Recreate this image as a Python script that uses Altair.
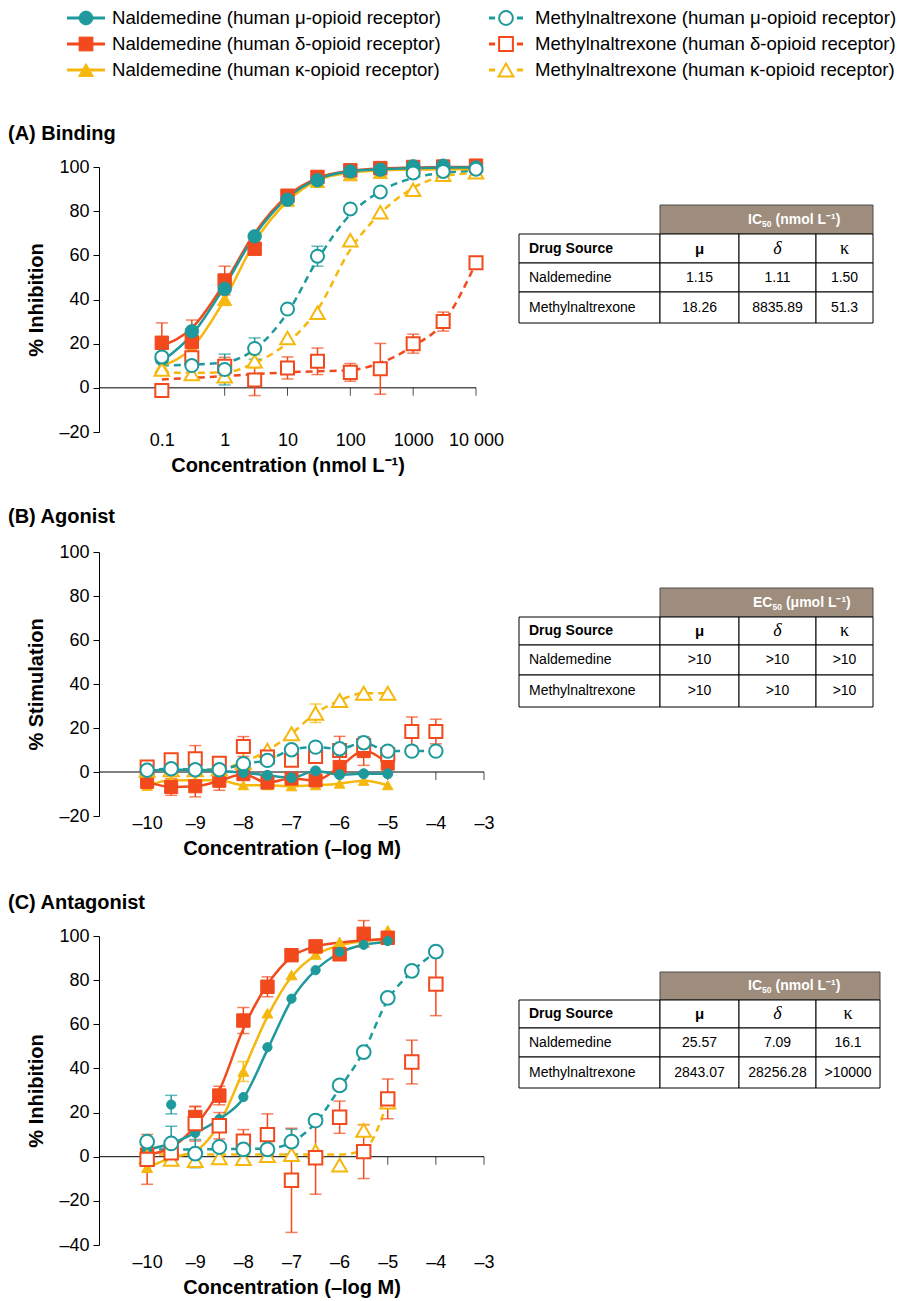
import altair as alt
import pandas as pd

FONT = "Liberation Sans, Arial, Helvetica, sans-serif"
SERIF = "Liberation Serif, Times New Roman, serif"

TEAL = "#1E9A9C"
RED = "#F2491D"
YELLOW = "#F6B80E"
BROWN = "#9E8C7C"

SERIES = ["Nal_mu", "Nal_delta", "Nal_kappa", "Met_mu", "Met_delta", "Met_kappa"]
LABELS = [
    "Naldemedine (human μ-opioid receptor)",
    "Naldemedine (human δ-opioid receptor)",
    "Naldemedine (human κ-opioid receptor)",
    "Methylnaltrexone (human μ-opioid receptor)",
    "Methylnaltrexone (human δ-opioid receptor)",
    "Methylnaltrexone (human κ-opioid receptor)",
]
COLOR = {"Nal_mu": TEAL, "Nal_delta": RED, "Nal_kappa": YELLOW,
         "Met_mu": TEAL, "Met_delta": RED, "Met_kappa": YELLOW}
SHAPE = {"Nal_mu": "circle", "Nal_delta": "square", "Nal_kappa": "triangle-up",
         "Met_mu": "circle", "Met_delta": "square", "Met_kappa": "triangle-up"}
OPEN = {"Nal_mu": False, "Nal_delta": False, "Nal_kappa": False,
        "Met_mu": True, "Met_delta": True, "Met_kappa": True}

# ---------------- Panel A: binding (x in nmol/L) ----------------
A_X = [0.1, 0.3, 1, 3, 10, 30, 100, 300, 1000, 3000, 10000]
A_NAL_MU = [13, 25.6, 44.8, 68.6, 85.2, 94, 98, 98.8, 100.3, 100.6, 99.8]
A_NAL_MU_FIT = [12, 24, 46, 69, 86, 94.5, 98, 99, 99.5, 99.7, 99.8]
A_NAL_DELTA = [20.4, 20.7, 48.6, 63, 87, 95.5, 98.5, 99.5, 100, 100.2, 100.6]
A_NAL_DELTA_ERR = [9, 10, 6.5, 0, 0, 0, 0, 0, 0, 0, 0]
A_NAL_DELTA_FIT = [19, 27, 47.5, 70, 87, 95, 98.3, 99.3, 99.7, 100, 100]
A_NAL_KAPPA = [9.5, 17.6, 40, 67, 85, 93.5, 96.5, 97.6, 98.5, 98.8, 98]
A_NAL_KAPPA_FIT = [10, 18, 40, 66, 84.5, 94, 97.5, 98.5, 98.8, 99, 99]
A_MET_MU = [14, 10.1, 8.3, 17.8, 35.7, 59.6, 81, 88.7, 97.3, 98, 99]
A_MET_MU_ERR = [0, 0, 7, 4.8, 0, 4.5, 0, 0, 0, 0, 0]
A_MET_MU_FIT = [10.2, 10.5, 11.5, 17.5, 34, 58, 78.5, 89, 95, 97.3, 98.3]
A_MET_DELTA = [-1.2, 13.6, 9.8, 3.5, 9, 12, 7, 8.6, 20, 30, 56.6]
A_MET_DELTA_ERR = [0, 0, 4, 7, 5, 6, 4, 11.5, 4.3, 4.3, 0]
A_MET_DELTA_FIT = [3.8, 4.5, 5.3, 6.2, 7, 7.5, 8, 11.3, 18.9, 29.4, 56.6]
A_MET_KAPPA = [8.3, 6.3, 5.3, 12, 22.6, 34, 66.8, 79.5, 89.7, 96.5, 97.6]
A_MET_KAPPA_ERR = [0, 0, 0, 3, 0, 0, 0, 0, 0, 0, 0]
A_MET_KAPPA_FIT = [7, 6.8, 7, 11.3, 20.4, 35.4, 62.6, 79, 90.5, 95.8, 97.3]
A_TICKS = [0.1, 1, 10, 100, 1000, 10000]

# ---------------- Panel B: agonist (x in -log M) ----------------
B_X = [-10, -9.5, -9, -8.5, -8, -7.5, -7, -6.5, -6, -5.5, -5]
B_XL = [-10, -9.5, -9, -8.5, -8, -7.5, -7, -6.5, -6, -5.5, -5, -4.5, -4]
B_NAL_MU = [0.5, 1, 1, 0.5, -0.3, -1.5, -2.6, 0.5, -1.2, -0.8, -0.8]
B_NAL_DELTA = [-4.5, -6.8, -6.5, -4, -1, -4.8, -3, -3.8, 2.3, 9.5, 3.8]
B_NAL_DELTA_ERR = [0, 3.8, 4.8, 4.3, 0, 0, 0, 0, 0, 6.5, 0]
B_NAL_KAPPA = [-6.3, -3.8, -3.8, -3.8, -6, -6, -6.5, -6, -5.3, -4, -6]
B_MET_MU = [0.8, 1.5, 1, 1, 3.8, 5.3, 10.1, 11.3, 10.6, 13.3, 9.5, 9.5, 9.5]
B_MET_DELTA = [2.3, 5.6, 6, 4, 11.6, 6.8, 5.3, 7, 9.8, 12, 8, 18.4, 18.4]
B_MET_DELTA_ERR = [2, 2.7, 6, 2, 4.5, 3, 0, 0, 6.4, 0, 0, 6.6, 5.6]
B_MET_KAPPA = [0.8, 1, 1, 1.5, 4.5, 9.8, 17.4, 26.7, 32.5, 35.8, 35.8]
B_MET_KAPPA_ERR = [0, 0, 0, 0, 0, 0, 0, 4.2, 0, 0, 0]
B_TICKS = [-10, -9, -8, -7, -6, -5, -4, -3]

# ---------------- Panel C: antagonist (x in -log M) ----------------
C_X = [-10, -9.5, -9, -8.5, -8, -7.5, -7, -6.5, -6, -5.5, -5]
C_XL = [-10, -9.5, -9, -8.5, -8, -7.5, -7, -6.5, -6, -5.5, -5, -4.5, -4]
C_NAL_MU = [3, 23.6, 10.8, 17, 27, 49.6, 71.6, 84.5, 92.8, 96, 97.7]
C_NAL_MU_ERR = [0, 4.2, 0, 0, 0, 0, 0, 0, 0, 0, 0]
C_NAL_MU_FIT = [3.3, 6, 10.8, 17, 26.5, 48.5, 71, 84.5, 92.3, 96, 97.3]
C_NAL_DELTA = [1, 3.3, 18, 27.7, 61.7, 77, 91.3, 95.3, 91.7, 101, 99.2]
C_NAL_DELTA_ERR = [0, 0, 4.6, 4.2, 5.9, 4.5, 0, 0, 0, 6, 0]
C_NAL_DELTA_FIT = [1, 4, 14, 30, 58, 78, 90.5, 95.3, 97, 98, 98.8]
C_NAL_KAPPA = [-5, -1, 1.5, 14, 38.6, 65, 82.3, 91.6, 97.3, 98, 102.6]
C_NAL_KAPPA_ERR = [0, 0, 0, 0, 4.5, 0, 0, 0, 0, 0, 0]
C_NAL_KAPPA_FIT = [-5, -0.5, 2.5, 15, 39, 63.5, 81.5, 91.3, 95.8, 97.7, 98.8]
C_MET_MU = [6.8, 6, 1.4, 4.4, 3.3, 3.3, 6.8, 16.4, 32.3, 47.4, 72, 84.2, 92.9]
C_MET_MU_ERR = [0, 7.8, 6.4, 0, 0, 0, 5.6, 0, 0, 0, 0, 0, 0]
C_MET_MU_FIT = [3.2, 3.3, 3.3, 3.4, 3.5, 3.7, 6.6, 15.3, 31, 47.7, 71, 83.8, 92.8]
C_MET_DELTA = [-1.2, 1.8, 15, 14, 7, 10, -10.7, -0.5, 17.9, 2.3, 26.2, 42.9, 78.2]
C_MET_DELTA_ERR = [11.3, 0, 7.9, 6, 5.3, 9.4, 23.6, 16.5, 7.3, 12.2, 9, 9.9, 14.3]
C_MET_KAPPA = [0, -1.2, -1.7, -0.5, -0.9, 0.5, 1, 2.5, -3.8, 11.9, 24.7]
C_MET_KAPPA_ERR = [0, 0, 0, 0, 0, 0, 0, 0, 0, 2.7, 0]
C_MET_KAPPA_FIT = [1, 1, 1, 1, 1, 1, 1, 1, 1, 3, 25]
C_TICKS = [-10, -9, -8, -7, -6, -5, -4, -3]

# ---------------- Tables ----------------
TABLE_COLS = ["Drug Source", "μ", "δ", "κ"]
TABLE_ROWS = ["Naldemedine", "Methylnaltrexone"]
A_TABLE_HEADER = ["IC", "50", "(nmol L⁻¹)"]
A_TABLE_NAL = ["1.15", "1.11", "1.50"]
A_TABLE_MET = ["18.26", "8835.89", "51.3"]
B_TABLE_HEADER = ["EC", "50", "(μmol L⁻¹)"]
B_TABLE_NAL = [">10", ">10", ">10"]
B_TABLE_MET = [">10", ">10", ">10"]
C_TABLE_HEADER = ["IC", "50", "(nmol L⁻¹)"]
C_TABLE_NAL = ["25.57", "7.09", "16.1"]
C_TABLE_MET = ["2843.07", "28256.28", ">10000"]

NEG = "datum.value < 0 ? '\u2013' + abs(datum.value) : '' + datum.value"


def frame(name, x, y, err=None):
    if err is None:
        err = [0] * len(y)
    return pd.DataFrame({
        "series": name, "x": x, "y": y, "err": err,
        "lo": [a - e for a, e in zip(y, err)],
        "hi": [a + e for a, e in zip(y, err)],
    })


def make_panel(points, fits, xscale, xaxis, ydom, ytitle, w, h, title, sizes,
               ticks, title_y=-33):
    pts = pd.concat([frame(k, *v) for k, v in points.items()], ignore_index=True)
    fit = pd.concat([frame(k, *v) for k, v in fits.items()], ignore_index=True)
    ysc = alt.Scale(domain=ydom, nice=False, zero=False)
    yax = alt.Axis(values=list(range(ydom[0], 101, 20)), labelExpr=NEG, title=ytitle,
                   grid=False, domainColor="black", domainWidth=1, tickColor="black",
                   tickSize=6, tickWidth=1, labelFontSize=18, labelColor="black",
                   labelPadding=4, titleFontSize=20, titleFontWeight="bold",
                   titleColor="black", titlePadding=12, labelFont=FONT, titleFont=FONT)

    def X(f="x"):
        return alt.X(f + ":Q", scale=xscale, axis=xaxis)

    def Y(f):
        return alt.Y(f + ":Q", scale=ysc, axis=yax)

    layers = []
    zdf = pd.DataFrame({"t": ticks, "z": [0] * len(ticks)})
    layers.append(alt.Chart(zdf.head(1)).mark_rule(color="black", strokeWidth=1)
                  .encode(y=Y("z")))
    layers.append(alt.Chart(zdf).mark_tick(orient="vertical", size=8, thickness=1,
                                           yOffset=4, color="black")
                  .encode(x=X("t"), y=Y("z")))
    line_order = ["Met_delta", "Met_kappa", "Met_mu", "Nal_kappa", "Nal_delta", "Nal_mu"]
    for s in line_order:
        if s not in fits:
            continue
        kw = dict(color=COLOR[s], strokeWidth=2.5, interpolate="monotone")
        if OPEN[s]:
            kw["strokeDash"] = [7, 5]
        layers.append(alt.Chart(fit).transform_filter(alt.datum.series == s)
                      .mark_line(**kw).encode(x=X(), y=Y("y")))
    for s in line_order:
        sub = alt.Chart(pts).transform_filter((alt.datum.series == s) & (alt.datum.err > 0))
        layers.append(sub.mark_rule(color=COLOR[s], strokeWidth=1.5)
                      .encode(x=X(), y=Y("lo"), y2=alt.Y2("hi:Q")))
        for f in ["lo", "hi"]:
            layers.append(sub.mark_tick(orient="horizontal", size=12, thickness=1.5,
                                        color=COLOR[s]).encode(x=X(), y=Y(f)))
    point_order = ["Nal_kappa", "Nal_delta", "Nal_mu", "Met_kappa", "Met_delta", "Met_mu"]
    for s in point_order:
        kw = dict(shape=SHAPE[s], size=sizes[s], filled=True, opacity=1,
                  color=COLOR[s], stroke=COLOR[s])
        if OPEN[s]:
            kw.update(fill="white", strokeWidth=2)
        else:
            kw.update(fill=COLOR[s], strokeWidth=1)
        layers.append(alt.Chart(pts).transform_filter(alt.datum.series == s)
                      .mark_point(**kw).encode(x=X(), y=Y("y")))
    layers.append(alt.Chart(pd.DataFrame({"t": [title]}))
                  .mark_text(align="left", baseline="middle", fontSize=20,
                             fontWeight="bold", font=FONT, color="black")
                  .encode(x=alt.value(-91), y=alt.value(title_y), text="t:N"))
    return alt.layer(*layers).properties(width=w, height=h)


def make_table(width, height, col_edges, row_edges, header, head_left, nal, met):
    cells = [dict(kind="head", x0=col_edges[1], x1=col_edges[4],
                  y0=row_edges[0], y1=row_edges[1])]
    for r in range(1, 4):
        for c in range(4):
            cells.append(dict(kind="cell", x0=col_edges[c], x1=col_edges[c + 1],
                              y0=row_edges[r], y1=row_edges[r + 1]))
    cells = pd.DataFrame(cells)
    mid = [(row_edges[i] + row_edges[i + 1]) / 2 for i in range(4)]
    cc = [(col_edges[i] + col_edges[i + 1]) / 2 for i in range(4)]
    # header: prefix (IC/EC), subscript 50, rest; widths estimated from Arial bold metrics
    pw = {"IC": 14.0, "EC": 19.4}[header[0]]
    texts = [dict(style="head", x=head_left, y=mid[0], text=header[0]),
             dict(style="headsub", x=head_left + pw, y=mid[0], text=header[1]),
             dict(style="head", x=head_left + pw + 13.5, y=mid[0], text=header[2]),
             dict(style="colhead", x=col_edges[0] + 10, y=mid[1], text=TABLE_COLS[0]),
             dict(style="mu", x=cc[1], y=mid[1], text=TABLE_COLS[1]),
             dict(style="delta", x=cc[2], y=mid[1], text=TABLE_COLS[2]),
             dict(style="kappa", x=cc[3], y=mid[1], text=TABLE_COLS[3])]
    for r, (name, vals) in enumerate(zip(TABLE_ROWS, [nal, met])):
        texts.append(dict(style="name", x=col_edges[0] + 10, y=mid[r + 2], text=name))
        for c, v in enumerate(vals):
            texts.append(dict(style="val", x=cc[c + 1], y=mid[r + 2], text=v))
    texts = pd.DataFrame(texts)
    xs = alt.Scale(domain=[0, width], nice=False, zero=False)
    ys = alt.Scale(domain=[0, height], reverse=True, nice=False, zero=False)
    enc_rect = dict(x=alt.X("x0:Q", scale=xs, axis=None), x2="x1:Q",
                    y=alt.Y("y0:Q", scale=ys, axis=None), y2="y1:Q")
    enc_text = dict(x=alt.X("x:Q", scale=xs, axis=None),
                    y=alt.Y("y:Q", scale=ys, axis=None), text="text:N")
    layers = [
        alt.Chart(cells).transform_filter(alt.datum.kind == "head")
        .mark_rect(fill=BROWN, stroke="#4a4a4a", strokeWidth=1).encode(**enc_rect),
        alt.Chart(cells).transform_filter(alt.datum.kind == "cell")
        .mark_rect(fill="white", stroke="black", strokeWidth=1).encode(**enc_rect),
    ]
    styles = {
        "head": dict(align="left", fontSize=14, fontWeight="bold", color="white", font=FONT),
        "headsub": dict(align="left", fontSize=8.5, fontWeight="bold", color="white",
                        font=FONT, dy=4),
        "colhead": dict(align="left", fontSize=14, fontWeight="bold", color="black", font=FONT),
        "mu": dict(align="center", fontSize=15, fontWeight="bold", color="black", font=FONT),
        "delta": dict(align="center", fontSize=18, fontStyle="italic", color="black", font=SERIF),
        "kappa": dict(align="center", fontSize=18, color="black", font=SERIF),
        "name": dict(align="left", fontSize=14, color="black", font=FONT),
        "val": dict(align="center", fontSize=14, color="black", font=FONT),
    }
    for st, kw in styles.items():
        layers.append(alt.Chart(texts).transform_filter(alt.datum.style == st)
                      .mark_text(baseline="middle", **kw).encode(**enc_text))
    return alt.layer(*layers).properties(width=width, height=height)


def make_legend(names, labels, x0, width, line_path, line_size, text_dx):
    df = pd.DataFrame({"series": names, "label": labels, "row": [0, 1, 2], "slot": [0, 0, 0]})
    lo = -x0 / width
    xs = alt.Scale(domain=[lo, lo + 1], nice=False, zero=False)
    ys = alt.Scale(domain=[-11 / 26, -11 / 26 + 40 / 26], reverse=True, nice=False, zero=False)
    X = alt.X("slot:Q", scale=xs, axis=None)
    Y = alt.Y("row:Q", scale=ys, axis=None)
    layers = []
    for n in names:
        sub = alt.Chart(df).transform_filter(alt.datum.series == n)
        layers.append(sub.mark_point(shape=line_path, size=line_size, filled=False,
                                     strokeWidth=3.2, opacity=1, color=COLOR[n],
                                     stroke=COLOR[n]).encode(x=X, y=Y))
        layers.append(sub.mark_point(shape=SHAPE[n], size=190 if SHAPE[n] != "triangle-up" else 220,
                                     filled=True, opacity=1, color=COLOR[n], stroke=COLOR[n],
                                     fill="white" if OPEN[n] else COLOR[n],
                                     strokeWidth=2 if OPEN[n] else 1).encode(x=X, y=Y))
    layers.append(alt.Chart(df).mark_text(align="left", baseline="middle", dx=text_dx,
                                          fontSize=18.6, font=FONT, color="black")
                  .encode(x=X, y=Y, text="label:N"))
    return alt.layer(*layers).properties(width=width, height=40)


legL = make_legend(SERIES[:3], LABELS[:3], -13, 385, "M-1,0H1", 38 * 38, 26)
legR = make_legend(SERIES[3:], LABELS[3:], -13, 361, "M-1,0H-0.64M0.64,0H1", 34 * 34, 29)

axA = alt.Axis(values=A_TICKS,
               labelExpr="datum.value >= 10000 ? '10 000' : datum.value < 1 ? '0.1' : format(datum.value, 'd')",
               domain=False, ticks=False, grid=False, labelPadding=-1, labelFontSize=18,
               labelColor="black", labelFlush=False, labelOverlap=False,
               title="Concentration (nmol L⁻¹)", titleFontSize=20, titleFontWeight="bold",
               titleColor="black", titlePadding=6, labelFont=FONT, titleFont=FONT)
scA = alt.Scale(type="log", domain=[0.01, 10000], nice=False)
sizesA = {"Nal_mu": 180, "Nal_delta": 180, "Nal_kappa": 200,
          "Met_mu": 170, "Met_delta": 170, "Met_kappa": 210}
plotA = make_panel(
    {"Nal_mu": (A_X, A_NAL_MU), "Nal_delta": (A_X, A_NAL_DELTA, A_NAL_DELTA_ERR),
     "Nal_kappa": (A_X, A_NAL_KAPPA), "Met_mu": (A_X, A_MET_MU, A_MET_MU_ERR),
     "Met_delta": (A_X, A_MET_DELTA, A_MET_DELTA_ERR),
     "Met_kappa": (A_X, A_MET_KAPPA, A_MET_KAPPA_ERR)},
    {"Nal_mu": (A_X, A_NAL_MU_FIT), "Nal_delta": (A_X, A_NAL_DELTA_FIT),
     "Nal_kappa": (A_X, A_NAL_KAPPA_FIT), "Met_mu": (A_X, A_MET_MU_FIT),
     "Met_delta": (A_X, A_MET_DELTA_FIT), "Met_kappa": (A_X, A_MET_KAPPA_FIT)},
    scA, axA, [-20, 100], "% Inhibition", 377, 265, "(A) Binding", sizesA, A_TICKS, -33)


def lin_axis(title, pad):
    return alt.Axis(values=B_TICKS, labelExpr=NEG, domain=False, ticks=False, grid=False,
                    labelPadding=pad, labelFontSize=18, labelColor="black", labelFlush=False,
                    labelOverlap=False, title=title, titleFontSize=20, titleFontWeight="bold",
                    titleColor="black", titlePadding=6, labelFont=FONT, titleFont=FONT)


scLin = alt.Scale(domain=[-11, -3], nice=False, zero=False)
sizesB = {"Nal_mu": 100, "Nal_delta": 170, "Nal_kappa": 110,
          "Met_mu": 180, "Met_delta": 170, "Met_kappa": 230}
plotB = make_panel(
    {"Nal_mu": (B_X, B_NAL_MU), "Nal_delta": (B_X, B_NAL_DELTA, B_NAL_DELTA_ERR),
     "Nal_kappa": (B_X, B_NAL_KAPPA), "Met_mu": (B_XL, B_MET_MU),
     "Met_delta": (B_XL, B_MET_DELTA, B_MET_DELTA_ERR),
     "Met_kappa": (B_X, B_MET_KAPPA, B_MET_KAPPA_ERR)},
    {"Nal_mu": (B_X, B_NAL_MU), "Nal_delta": (B_X, B_NAL_DELTA),
     "Nal_kappa": (B_X, B_NAL_KAPPA), "Met_mu": (B_XL, B_MET_MU),
     "Met_kappa": (B_X, B_MET_KAPPA)},
    scLin, lin_axis("Concentration (–log M)", -2), [-20, 100], "% Stimulation",
    385, 264, "(B) Agonist", sizesB, B_TICKS, -35)

sizesC = {"Nal_mu": 85, "Nal_delta": 180, "Nal_kappa": 120,
          "Met_mu": 190, "Met_delta": 180, "Met_kappa": 220}
plotC = make_panel(
    {"Nal_mu": (C_X, C_NAL_MU, C_NAL_MU_ERR), "Nal_delta": (C_X, C_NAL_DELTA, C_NAL_DELTA_ERR),
     "Nal_kappa": (C_X, C_NAL_KAPPA, C_NAL_KAPPA_ERR), "Met_mu": (C_XL, C_MET_MU, C_MET_MU_ERR),
     "Met_delta": (C_XL, C_MET_DELTA, C_MET_DELTA_ERR),
     "Met_kappa": (C_X, C_MET_KAPPA, C_MET_KAPPA_ERR)},
    {"Nal_mu": (C_X, C_NAL_MU_FIT), "Nal_delta": (C_X, C_NAL_DELTA_FIT),
     "Nal_kappa": (C_X, C_NAL_KAPPA_FIT), "Met_mu": (C_XL, C_MET_MU_FIT),
     "Met_kappa": (C_X, C_MET_KAPPA_FIT)},
    scLin, lin_axis("Concentration (–log M)", 8), [-40, 100], "% Inhibition",
    385, 309, "(C) Antagonist", sizesC, C_TICKS, -33)

tabA = make_table(354, 265, [0, 141, 220, 297, 354], [38, 67, 96, 125, 156],
                  A_TABLE_HEADER, 229, A_TABLE_NAL, A_TABLE_MET)
tabB = make_table(354, 264, [0, 141, 220, 297, 354], [36, 65, 93, 123, 155],
                  B_TABLE_HEADER, 234, B_TABLE_NAL, B_TABLE_MET)
tabC = make_table(361, 309, [0, 141, 220, 297, 361], [36, 64, 92, 121, 152],
                  C_TABLE_HEADER, 229, C_TABLE_NAL, C_TABLE_MET)

chart = alt.concat(legL, legR, plotA, tabA, plotB, tabB, plotC, tabC,
                   columns=2, spacing={"row": 120, "column": 35}, bounds="flush")
chart = chart.properties(
    padding={"left": 8, "top": 7, "right": 4, "bottom": 2}
).configure(font=FONT).configure_view(strokeWidth=0)

chart.save("out.html", embed_options={"renderer": "svg", "actions": False})
